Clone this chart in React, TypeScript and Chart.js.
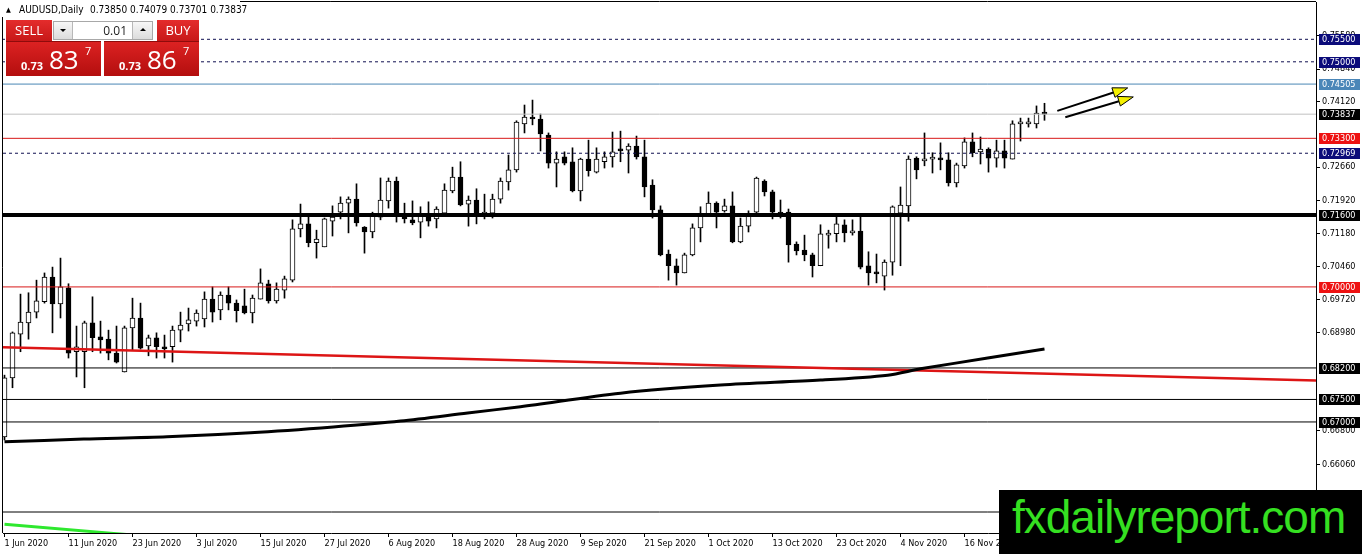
import React, { useEffect, useRef } from "react";
import { Chart, registerables } from "chart.js";

Chart.register(...registerables);

// ---------- data ----------
const DATE_LABELS = [
  "1 Jun 2020", "11 Jun 2020", "23 Jun 2020", "3 Jul 2020", "15 Jul 2020", "27 Jul 2020",
  "6 Aug 2020", "18 Aug 2020", "28 Aug 2020", "9 Sep 2020", "21 Sep 2020", "1 Oct 2020",
  "13 Oct 2020", "23 Oct 2020", "4 Nov 2020", "16 Nov 2020",
];
const DATE_TICK_INDEX = [0, 8, 16, 24, 32, 40, 48, 56, 64, 72, 80, 88, 96, 104, 112, 120];

const OPEN = [
  0.6667, 0.6798, 0.6895, 0.6920, 0.6944, 0.6967, 0.7022, 0.6962, 0.6998, 0.6856,
  0.6856, 0.6920, 0.6889, 0.6884, 0.6853, 0.6811, 0.6909, 0.6931, 0.6869, 0.6887,
  0.6867, 0.6867, 0.6904, 0.6918, 0.6924, 0.6929, 0.6973, 0.6949, 0.6982, 0.6964,
  0.6958, 0.6942, 0.6973, 0.7007, 0.6969, 0.6993, 0.7015, 0.7129, 0.7140, 0.7098,
  0.7089, 0.7146, 0.7166, 0.7186, 0.7195, 0.7133, 0.7122, 0.7155, 0.7191, 0.7235,
  0.7160, 0.7149, 0.7144, 0.7160, 0.7151, 0.7164, 0.7213, 0.7244, 0.7184, 0.7193,
  0.7162, 0.7164, 0.7195, 0.7233, 0.7260, 0.7362, 0.7377, 0.7373, 0.7337, 0.7275,
  0.7289, 0.7278, 0.7213, 0.7284, 0.7255, 0.7278, 0.7289, 0.7306, 0.7304, 0.7313,
  0.7289, 0.7226, 0.7171, 0.7073, 0.7047, 0.7031, 0.7071, 0.7131, 0.7162, 0.7186,
  0.7169, 0.7180, 0.7100, 0.7135, 0.7166, 0.7235, 0.7211, 0.7164, 0.7166, 0.7095,
  0.7082, 0.7071, 0.7047, 0.7115, 0.7118, 0.7138, 0.7120, 0.7124, 0.7047, 0.7031,
  0.7024, 0.7055, 0.7164, 0.7180, 0.7286, 0.7280, 0.7284, 0.7284, 0.7282, 0.7231,
  0.7269, 0.7322, 0.7300, 0.7306, 0.7286, 0.7302, 0.7284, 0.7362, 0.7362, 0.7362,
  0.7385,
];
const HIGH = [
  0.6804, 0.6900, 0.6984, 0.6987, 0.7015, 0.7031, 0.7044, 0.7064, 0.7007, 0.6913,
  0.6924, 0.6978, 0.6924, 0.6904, 0.6913, 0.6913, 0.6975, 0.6964, 0.6893, 0.6898,
  0.6893, 0.6913, 0.6944, 0.6953, 0.6949, 0.6989, 0.7000, 0.6989, 0.7000, 0.6971,
  0.6995, 0.6982, 0.7040, 0.7015, 0.7009, 0.7024, 0.7149, 0.7184, 0.7158, 0.7126,
  0.7153, 0.7180, 0.7200, 0.7200, 0.7229, 0.7134, 0.7166, 0.7242, 0.7242, 0.7244,
  0.7186, 0.7191, 0.7178, 0.7189, 0.7178, 0.7229, 0.7266, 0.7278, 0.7202, 0.7218,
  0.7206, 0.7206, 0.7242, 0.7293, 0.7369, 0.7404, 0.7415, 0.7384, 0.7342, 0.7300,
  0.7300, 0.7309, 0.7286, 0.7326, 0.7309, 0.7300, 0.7344, 0.7346, 0.7318, 0.7335,
  0.7326, 0.7238, 0.7180, 0.7082, 0.7062, 0.7075, 0.7140, 0.7178, 0.7211, 0.7189,
  0.7195, 0.7211, 0.7153, 0.7169, 0.7244, 0.7238, 0.7215, 0.7193, 0.7173, 0.7100,
  0.7115, 0.7075, 0.7138, 0.7126, 0.7158, 0.7149, 0.7149, 0.7158, 0.7078, 0.7073,
  0.7060, 0.7180, 0.7222, 0.7291, 0.7289, 0.7342, 0.7298, 0.7320, 0.7298, 0.7275,
  0.7331, 0.7342, 0.7333, 0.7309, 0.7326, 0.7326, 0.7369, 0.7375, 0.7375, 0.7402,
  0.74079,
];
const LOW = [
  0.6660, 0.6776, 0.6856, 0.6884, 0.6931, 0.6964, 0.6898, 0.6931, 0.6842, 0.6800,
  0.6776, 0.6856, 0.6853, 0.6838, 0.6831, 0.6811, 0.6860, 0.6862, 0.6847, 0.6842,
  0.6842, 0.6833, 0.6878, 0.6902, 0.6913, 0.6911, 0.6922, 0.6927, 0.6949, 0.6922,
  0.6940, 0.6920, 0.6973, 0.6964, 0.6964, 0.6975, 0.7011, 0.7111, 0.7089, 0.7064,
  0.7089, 0.7113, 0.7151, 0.7120, 0.7135, 0.7075, 0.7109, 0.7149, 0.7175, 0.7144,
  0.7142, 0.7138, 0.7109, 0.7135, 0.7131, 0.7164, 0.7209, 0.7180, 0.7135, 0.7140,
  0.7151, 0.7153, 0.7186, 0.7215, 0.7255, 0.7342, 0.7360, 0.7302, 0.7264, 0.7222,
  0.7271, 0.7211, 0.7191, 0.7246, 0.7253, 0.7264, 0.7266, 0.7278, 0.7253, 0.7284,
  0.7200, 0.7153, 0.7069, 0.7015, 0.7004, 0.7031, 0.7069, 0.7100, 0.7158, 0.7131,
  0.7166, 0.7098, 0.7098, 0.7122, 0.7164, 0.7202, 0.7151, 0.7153, 0.7055, 0.7071,
  0.7058, 0.7022, 0.7047, 0.7086, 0.7100, 0.7100, 0.7115, 0.7040, 0.7004, 0.7009,
  0.6993, 0.7026, 0.7047, 0.7146, 0.7240, 0.7269, 0.7253, 0.7260, 0.7224, 0.7222,
  0.7264, 0.7289, 0.7273, 0.7255, 0.7266, 0.7264, 0.7284, 0.7324, 0.7355, 0.7353,
  0.73701,
];
const CLOSE = [
  0.6798, 0.6898, 0.6922, 0.6944, 0.6969, 0.7022, 0.6962, 0.7000, 0.6853, 0.6867,
  0.6920, 0.6887, 0.6882, 0.6853, 0.6833, 0.6909, 0.6931, 0.6864, 0.6887, 0.6867,
  0.6862, 0.6904, 0.6915, 0.6927, 0.6942, 0.6973, 0.6944, 0.6982, 0.6964, 0.6947,
  0.6942, 0.6975, 0.7009, 0.6969, 0.6995, 0.7018, 0.7129, 0.7140, 0.7098, 0.7106,
  0.7151, 0.7155, 0.7186, 0.7195, 0.7142, 0.7122, 0.7158, 0.7193, 0.7235, 0.7164,
  0.7151, 0.7142, 0.7160, 0.7146, 0.7173, 0.7215, 0.7244, 0.7182, 0.7193, 0.7162,
  0.7164, 0.7195, 0.7235, 0.7260, 0.7366, 0.7377, 0.7373, 0.7340, 0.7275, 0.7284,
  0.7275, 0.7213, 0.7284, 0.7258, 0.7284, 0.7289, 0.7300, 0.7302, 0.7313, 0.7289,
  0.7222, 0.7171, 0.7071, 0.7047, 0.7031, 0.7071, 0.7131, 0.7160, 0.7186, 0.7166,
  0.7180, 0.7100, 0.7135, 0.7158, 0.7242, 0.7211, 0.7166, 0.7162, 0.7093, 0.7080,
  0.7071, 0.7047, 0.7118, 0.7118, 0.7140, 0.7120, 0.7122, 0.7044, 0.7031, 0.7029,
  0.7055, 0.7178, 0.7182, 0.7284, 0.7260, 0.7284, 0.7286, 0.7282, 0.7231, 0.7271,
  0.7322, 0.7298, 0.7306, 0.7286, 0.7302, 0.7286, 0.7362, 0.7364, 0.7363, 0.7386,
  0.73837,
];

// long moving average (read at selected bars)
const MA_INDEX = [0, 9.9, 20.3, 30.75, 41.1, 49.5, 57.9, 64.5, 77, 89.5, 102, 110.4, 114.5, 122.9, 130];
const MA_VALUE = [0.6656, 0.6662, 0.6667, 0.6676, 0.6689, 0.6702, 0.6720, 0.6734, 0.6764, 0.6782, 0.6793, 0.6804, 0.6818, 0.6842, 0.6862];

// red trend line
const TREND_INDEX = [-0.1875, 163.9375];
const TREND_VALUE = [0.6866, 0.6792];

// green line (bottom-left)
const GREEN_INDEX = [0, 13.25, 20];
const GREEN_VALUE = [0.6473, 0.6453, 0.6443];

// horizontal levels
const LEVELS = [0.755, 0.75, 0.74505, 0.73837, 0.733, 0.72969, 0.716, 0.70, 0.682, 0.675, 0.67, 0.65];

// axis ticks / ranges
const Y_TICKS = [0.7558, 0.7484, 0.7412, 0.7266, 0.7192, 0.7118, 0.7046, 0.6972, 0.6898, 0.668, 0.6606];
const Y_MIN = 0.645337;
const Y_MAX = 0.763285;
const X_MIN = -0.1875;
const X_MAX = 163.9375;

// arrows
const ARROW_START_INDEX = [131.6, 132.6];
const ARROW_START_PRICE = [0.7391, 0.7377];
const ARROW_END_INDEX = [140.4, 141.1];
const ARROW_END_PRICE = [0.7442, 0.7422];

const SYMBOL = "AUDUSD,Daily";
const HEADER_OHLC = ["0.73850", "0.74079", "0.73701", "0.73837"];
const SELL_PRICE = ["0.73", "83", "7"];
const BUY_PRICE = ["0.73", "86", "7"];
const LOT = "0.01";
const WATERMARK = "fxdailyreport.com";

// ---------- styles ----------
const AXIS_FONT = "'DejaVu Sans Condensed', 'DejaVu Sans', sans-serif";
const NAVY = "#0b0b7a";
const LEVEL_STYLES = [
  { color: "#101050", width: 1, dash: [3, 3], bg: NAVY },
  { color: "#101050", width: 1, dash: [3, 3], bg: NAVY },
  { color: "#4a86b4", width: 1, dash: [], bg: "#4a86b8" },
  { color: "#c0c0c0", width: 1, dash: [], bg: "#000000" },
  { color: "#d81818", width: 1, dash: [], bg: "#ee1111" },
  { color: "#101050", width: 1, dash: [3, 3], bg: NAVY },
  { color: "#000000", width: 4, dash: [], bg: "#000000" },
  { color: "#d81818", width: 1, dash: [], bg: "#ee1111" },
  { color: "#000000", width: 1, dash: [], bg: "#000000" },
  { color: "#000000", width: 1, dash: [], bg: "#000000" },
  { color: "#000000", width: 1, dash: [], bg: "#000000" },
  { color: "#000000", width: 1, dash: [], bg: "#000000" },
];

const overlayPlugin = {
  id: "mt4overlay",
  afterDatasetsDraw(chart: any) {
    const ctx = chart.ctx;
    const xs = chart.scales.x;
    const ys = chart.scales.y;
    ctx.save();
    for (let i = 0; i < ARROW_START_INDEX.length; i++) {
      const x0 = xs.getPixelForValue(ARROW_START_INDEX[i]);
      const y0 = ys.getPixelForValue(ARROW_START_PRICE[i]);
      const x1 = xs.getPixelForValue(ARROW_END_INDEX[i]);
      const y1 = ys.getPixelForValue(ARROW_END_PRICE[i]);
      const dx = x1 - x0, dy = y1 - y0;
      const len = Math.hypot(dx, dy);
      const ux = dx / len, uy = dy / len;
      const hl = 15, hw = 5;
      const bx = x1 - ux * hl, by = y1 - uy * hl;
      ctx.strokeStyle = "#000";
      ctx.lineWidth = 2;
      ctx.beginPath();
      ctx.moveTo(x0, y0);
      ctx.lineTo(bx, by);
      ctx.stroke();
      ctx.beginPath();
      ctx.moveTo(x1, y1);
      ctx.lineTo(bx - uy * hw, by + ux * hw);
      ctx.lineTo(bx + uy * hw, by - ux * hw);
      ctx.closePath();
      ctx.fillStyle = "#f4f000";
      ctx.fill();
      ctx.lineWidth = 1;
      ctx.stroke();
    }
    ctx.restore();
  },
  afterDraw(chart: any) {
    const ctx = chart.ctx;
    const ys = chart.scales.y;
    const { left, top, right, bottom } = chart.chartArea;
    ctx.save();
    ctx.strokeStyle = "#000";
    ctx.lineWidth = 1;
    ctx.beginPath();
    ctx.moveTo(left - 0.5, top - 0.5);
    ctx.lineTo(left - 0.5, bottom);
    ctx.moveTo(left - 0.5, top - 0.5);
    ctx.lineTo(right, top - 0.5);
    ctx.stroke();
    ctx.font = `9px ${AXIS_FONT}`;
    ctx.textBaseline = "middle";
    ctx.textAlign = "left";
    LEVELS.forEach((lv, i) => {
      const st = LEVEL_STYLES[i];
      const py = Math.round(ys.getPixelForValue(lv));
      ctx.fillStyle = st.bg;
      ctx.fillRect(right + 3, py - 5, 41, 11);
      ctx.fillStyle = "#fff";
      ctx.fillText(lv.toFixed(5), right + 6, py + 0.5);
    });
    ctx.restore();
  },
};

export default function App() {
  const ref = useRef<HTMLCanvasElement>(null);

  useEffect(() => {
    const canvas = ref.current;
    if (!canvas) return;

    const wickData = OPEN.map((_, i) => ({ x: i, y: [LOW[i], HIGH[i]] }));
    const bodyData = OPEN.map((o, i) => ({ x: i, y: [o, CLOSE[i]] }));
    const bodyColors = OPEN.map((o, i) => (CLOSE[i] >= o ? "#ffffff" : "#000000"));

    const levelSets = LEVELS.map((lv, i) => ({
      type: "line" as const,
      data: [{ x: X_MIN, y: lv }, { x: X_MAX, y: lv }],
      borderColor: LEVEL_STYLES[i].color,
      borderWidth: LEVEL_STYLES[i].width,
      borderDash: LEVEL_STYLES[i].dash,
      pointRadius: 0,
      clip: 0,
      order: 5,
    }));

    const chart = new Chart(canvas, {
      type: "bar",
      data: {
        datasets: [
          ...levelSets,
          {
            type: "line",
            data: TREND_INDEX.map((x, i) => ({ x, y: TREND_VALUE[i] })),
            borderColor: "#dd1515",
            borderWidth: 2.5,
            pointRadius: 0,
            clip: 0,
            order: 3,
          },
          {
            type: "line",
            data: MA_INDEX.map((x, i) => ({ x, y: MA_VALUE[i] })),
            borderColor: "#000000",
            borderWidth: 3,
            pointRadius: 0,
            tension: 0.3,
            clip: 0,
            order: 2,
          },
          {
            type: "line",
            data: GREEN_INDEX.map((x, i) => ({ x, y: GREEN_VALUE[i] })),
            borderColor: "#2ee82e",
            borderWidth: 3,
            pointRadius: 0,
            clip: 0,
            order: 2,
          },
          {
            type: "bar",
            data: wickData,
            backgroundColor: "#000000",
            barThickness: 1,
            grouped: false,
            order: 20,
          },
          {
            type: "bar",
            data: bodyData,
            backgroundColor: bodyColors,
            borderColor: "#000000",
            borderWidth: 1,
            borderSkipped: false,
            barThickness: 5,
            minBarLength: 2,
            grouped: false,
            order: 19,
          },
        ] as any,
      },
      options: {
        animation: false,
        responsive: false,
        maintainAspectRatio: false,
        devicePixelRatio: 1,
        events: [],
        layout: { padding: { left: 3, top: 2, right: 0, bottom: 0 } },
        plugins: { legend: { display: false }, tooltip: { enabled: false } },
        scales: {
          x: {
            type: "linear",
            position: "bottom",
            min: X_MIN,
            max: X_MAX,
            offset: false,
            afterBuildTicks: (s: any) => {
              s.ticks = DATE_TICK_INDEX.map((v) => ({ value: v }));
            },
            afterFit: (s: any) => {
              s.height = 21;
              s.paddingLeft = 0;
              s.paddingRight = 0;
            },
            ticks: {
              autoSkip: false,
              maxRotation: 0,
              minRotation: 0,
              align: "start",
              padding: 1,
              color: "#000",
              font: { family: AXIS_FONT, size: 9 },
              callback: (_v: any, i: number) => DATE_LABELS[i],
            },
            grid: { drawOnChartArea: false, drawTicks: true, tickLength: 4, color: "#000", offset: false },
            border: { display: true, color: "#000" },
          },
          y: {
            type: "linear",
            position: "right",
            min: Y_MIN,
            max: Y_MAX,
            afterBuildTicks: (s: any) => {
              s.ticks = Y_TICKS.map((v) => ({ value: v }));
            },
            afterFit: (s: any) => {
              s.width = 46;
              s.paddingTop = 0;
              s.paddingBottom = 0;
            },
            ticks: {
              autoSkip: false,
              padding: 2,
              color: "#000",
              font: { family: AXIS_FONT, size: 9 },
              callback: (v: any) => Number(v).toFixed(5),
            },
            grid: { drawOnChartArea: false, drawTicks: true, tickLength: 4, color: "#000" },
            border: { display: true, color: "#000" },
          },
        },
      } as any,
      plugins: [overlayPlugin],
    });
    return () => chart.destroy();
  }, []);

  const red1 = "linear-gradient(#e42c2c, #c71818)";
  const red2 = "linear-gradient(#dc2222, #b30e0e)";
  const btn = "linear-gradient(#f7f7f7, #dcdcdc)";

  const priceBox = (left: number, p: string[]) => (
    <div
      style={{
        position: "absolute", left, top: 41, width: 95, height: 35, background: red2,
        borderTop: "1px solid #8f0b0b", boxSizing: "border-box", color: "#fff", fontFamily: "'Open Sans', sans-serif",
      }}
    >
      <span style={{ position: "absolute", left: 15, top: 18, fontSize: 11, lineHeight: "11px", fontWeight: 700 }}>{p[0]}</span>
      <span style={{ position: "absolute", left: 43, top: 4, fontSize: 26, lineHeight: "26px" }}>{p[1]}</span>
      <span style={{ position: "absolute", left: 79, top: 3, fontSize: 11, lineHeight: "11px" }}>{p[2]}</span>
    </div>
  );

  return (
    <div style={{ position: "fixed", left: 0, top: 0, width: 1362, height: 554, background: "#fff", overflow: "hidden" }}>
      <canvas ref={ref} width={1362} height={554} style={{ position: "absolute", left: 0, top: 0, width: 1362, height: 554 }} />

      {/* header */}
      <div style={{ position: "absolute", left: 0, top: 0, width: 240, height: 17, background: "#fff" }} />
      <span style={{ position: "absolute", left: 6, top: 6, fontSize: 7, lineHeight: "8px", fontFamily: AXIS_FONT, color: "#000" }}>▲</span>
      <span style={{ position: "absolute", left: 19, top: 4, fontSize: 10, lineHeight: "12px", fontFamily: AXIS_FONT, color: "#000", whiteSpace: "nowrap" }}>{SYMBOL}</span>
      <span style={{ position: "absolute", left: 90, top: 4, fontSize: 10, lineHeight: "12px", fontFamily: AXIS_FONT, color: "#000", whiteSpace: "nowrap" }}>{HEADER_OHLC.join(" ")}</span>

      {/* trade panel */}
      <div style={{ position: "absolute", left: 5, top: 19, width: 196, height: 58, background: "#fff" }} />
      <div style={{ position: "absolute", left: 6, top: 20, width: 46, height: 21, background: red1, color: "#fff", fontFamily: "'Open Sans', sans-serif", fontSize: 13, lineHeight: "21px", textAlign: "center" }}>SELL</div>
      <div style={{ position: "absolute", left: 157, top: 20, width: 42, height: 21, background: red1, color: "#fff", fontFamily: "'Open Sans', sans-serif", fontSize: 13, lineHeight: "21px", textAlign: "center" }}>BUY</div>
      <div style={{ position: "absolute", left: 53, top: 21, width: 100, height: 19, border: "1px solid #a8a8a8", boxSizing: "border-box", background: "#fff" }}>
        <div style={{ position: "absolute", left: 0, top: 0, width: 18, height: 17, background: btn, borderRight: "1px solid #b8b8b8" }}>
          <div style={{ position: "absolute", left: 6, top: 7, width: 0, height: 0, borderLeft: "3px solid transparent", borderRight: "3px solid transparent", borderTop: "3px solid #000" }} />
        </div>
        <div style={{ position: "absolute", right: 0, top: 0, width: 19, height: 17, background: btn, borderLeft: "1px solid #b8b8b8" }}>
          <div style={{ position: "absolute", left: 7, top: 6, width: 0, height: 0, borderLeft: "3px solid transparent", borderRight: "3px solid transparent", borderBottom: "3px solid #000" }} />
        </div>
        <span style={{ position: "absolute", right: 25, top: 0, fontFamily: "'Open Sans', sans-serif", fontSize: 12, lineHeight: "17px", color: "#222" }}>{LOT}</span>
      </div>
      {priceBox(6, SELL_PRICE)}
      {priceBox(104, BUY_PRICE)}

      {/* watermark */}
      <div style={{ position: "absolute", left: 999, top: 490, width: 363, height: 64, background: "#000", overflow: "hidden" }}>
        <span style={{ position: "absolute", left: 13, top: -5, fontFamily: "'Liberation Sans', Arial, sans-serif", fontSize: 46, lineHeight: "64px", letterSpacing: "-1px", color: "#35e021", whiteSpace: "nowrap" }}>{WATERMARK}</span>
      </div>
    </div>
  );
}
